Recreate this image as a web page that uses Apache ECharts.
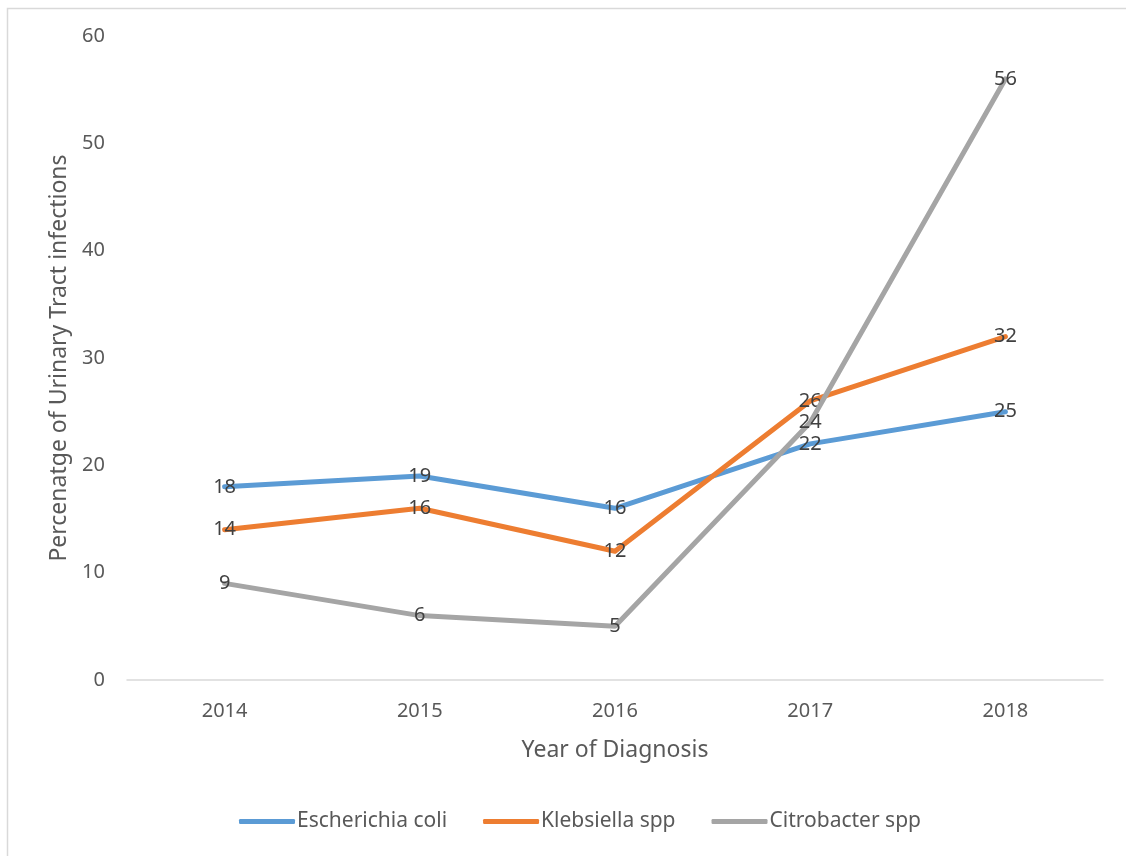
<!DOCTYPE html>
<html>
<head>
<meta charset="utf-8">
<script src="https://cdn.jsdelivr.net/npm/echarts@6/dist/echarts.min.js"></script>
<style>
  html, body { margin: 0; padding: 0; background: #fff; }
  #chart { width: 1126px; height: 856px; }
</style>
</head>
<body>
<div id="chart"></div>
<script>
// Years of diagnosis on the x axis
const years = ['2014', '2015', '2016', '2017', '2018'];

// Share of urinary tract infections (%) per organism
const escherichiaColi = [18, 19, 16, 22, 25];
const klebsiellaSpp = [14, 16, 12, 26, 32];
const citrobacterSpp = [9, 6, 5, 24, 56];

const seriesNames = ['Escherichia coli', 'Klebsiella spp', 'Citrobacter spp'];
const seriesColors = ['#5B9BD5', '#ED7D31', '#A5A5A5'];
const seriesValues = [escherichiaColi, klebsiellaSpp, citrobacterSpp];

const FONT = 'Noto Sans';

const chart = echarts.init(document.getElementById('chart'), null, { renderer: 'canvas' });

chart.setOption({
  backgroundColor: '#ffffff',
  textStyle: { fontFamily: FONT },
  graphic: [{
    type: 'rect',
    shape: { x: 7.5, y: 8.5, width: 1400, height: 1000 },
    style: { fill: 'none', stroke: '#d9d9d9', lineWidth: 1.5 },
    silent: true
  }],
  grid: { left: 127, right: 23, top: 36, bottom: 176 },
  legend: {
    bottom: 19,
    left: 234,
    itemWidth: 56,
    itemHeight: 5,
    itemGap: 36,
    icon: 'roundRect',
    textStyle: { fontFamily: FONT, fontSize: 21, color: '#595959', padding: [0, 0, 0, -3] },
    data: seriesNames.map((n, i) => ({ name: n, itemStyle: { color: seriesColors[i] } }))
  },
  xAxis: {
    type: 'category',
    data: years,
    boundaryGap: true,
    name: 'Year of Diagnosis',
    nameLocation: 'middle',
    nameGap: 59,
    nameTextStyle: { fontFamily: FONT, fontSize: 23, color: '#595959' },
    axisLine: { lineStyle: { color: '#d9d9d9', width: 1.5 } },
    axisTick: { show: false },
    axisLabel: { fontFamily: FONT, fontSize: 20, color: '#595959', margin: 21 }
  },
  yAxis: {
    type: 'value',
    min: 0,
    max: 60,
    interval: 10,
    name: 'Percenatge of Urinary Tract infections',
    nameLocation: 'middle',
    nameGap: 55,
    nameTextStyle: { fontFamily: FONT, fontSize: 23, color: '#595959' },
    axisLine: { show: false },
    axisTick: { show: false },
    splitLine: { show: false },
    axisLabel: { fontFamily: FONT, fontSize: 20, color: '#595959', margin: 22 }
  },
  series: seriesNames.map((name, i) => ({
    name: name,
    type: 'line',
    data: seriesValues[i],
    symbol: 'circle',
    symbolSize: 3,
    showSymbol: true,
    itemStyle: { color: seriesColors[i] },
    lineStyle: { color: seriesColors[i], width: 5, cap: 'round', join: 'round' },
    label: {
      show: true,
      position: 'inside',
      offset: [0, 3],
      fontFamily: FONT,
      fontSize: 20,
      color: '#404040'
    },
    labelLayout: { hideOverlap: false },
    emphasis: { disabled: true },
    z: 2 + i
  }))
});
</script>
</body>
</html>
